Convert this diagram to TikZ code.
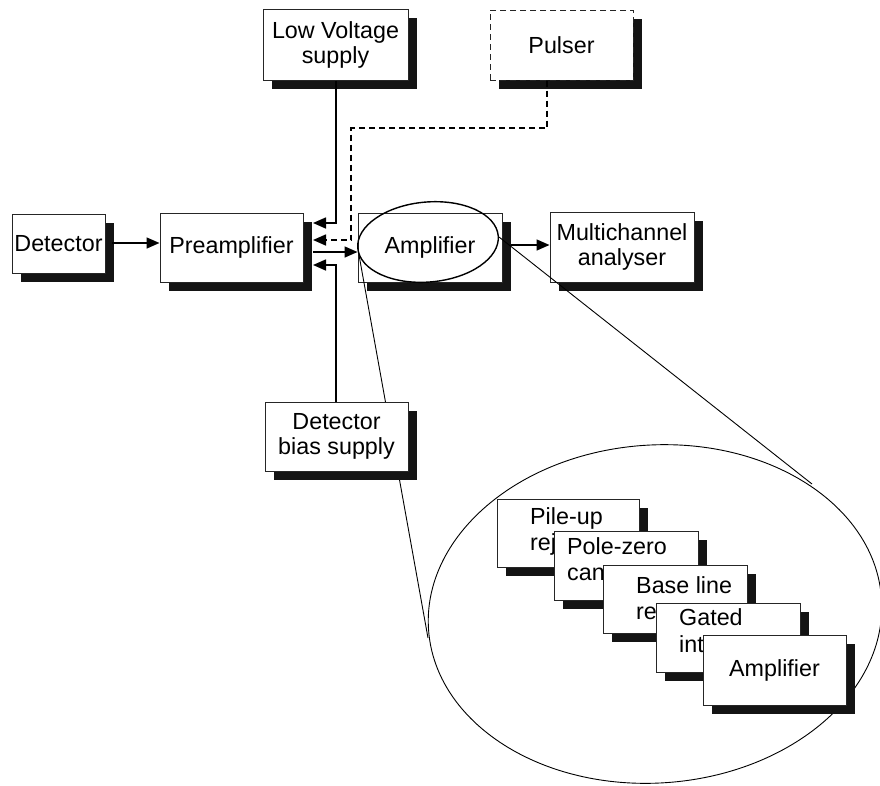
\documentclass[tikz,border=0pt]{standalone}
\usepackage{fontspec}
\setmainfont{Liberation Sans}
\usetikzlibrary{shadows,arrows.meta,shapes.geometric}
\begin{document}
\begin{tikzpicture}[x=1pt,y=-1pt,
  boxfont/.style={font=\fontsize{23.3}{25}\selectfont},
  blk/.style={boxfont, draw=black!85, line width=1pt, fill=white, align=center, inner sep=0pt,
    drop shadow={shadow xshift=9pt,shadow yshift=-9pt,opacity=1,fill=black!92}},
  bigbox/.style={blk, minimum width=143pt, minimum height=69pt},
  conn/.style={line width=1.6pt, -{Triangle[length=13pt,width=11pt]}},
  pconn/.style={conn, dash pattern=on 6pt off 4pt},
  zoomline/.style={line width=0.9pt},
  lbl/.style={boxfont, inner sep=0pt, anchor=base west}]
\useasboundingbox (0,0) rectangle (880,785);

% main row boxes
\node[blk, minimum width=93pt, minimum height=59pt] (det) at (58.5,243.5) {Detector};
\node[bigbox] (pre) at (231.5,247.5) {Preamplifier};
\node[bigbox, minimum width=145pt, minimum height=71pt] (lv) at (335.5,44.5) {Low Voltage\\supply};
\node[bigbox, minimum height=70pt, dash pattern=on 6pt off 4pt] (pulser) at (561.5,45) {Pulser};
\node[bigbox, minimum width=144pt] (amp) at (430,247.5) {Amplifier};
\node[bigbox, minimum width=144pt, minimum height=70pt] (mca) at (622,247) {Multichannel\\analyser};

% ellipse marking the amplifier
\node[draw, ellipse, line width=1.4pt, minimum width=141pt, minimum height=80pt, inner sep=0pt, rotate=5] (ampell) at (428,242) {};

% zoom lines
\coordinate (zl1) at (359,255);
\coordinate (zl2) at (428,638);
\coordinate (zr1) at (499,237);
\coordinate (zr2) at (812,484);
\draw[zoomline] (zl1) -- (zl2);
\draw[zoomline] (zr1) -- (zr2);

% bias supply box
\node[bigbox] (bias) at (336.5,436.5) {Detector\\bias supply};

% connectors
\coordinate (dp) at (112,243);
\coordinate (lvc) at (336,223);
\coordinate (tapLV) at (313,223);
\coordinate (pc1) at (547,128);
\coordinate (pc2) at (351,128);
\coordinate (pc3) at (351,240);
\coordinate (tapP) at (313,240);
\coordinate (tapA) at (313,252);
\coordinate (bc) at (336,265);
\coordinate (tapB) at (313,265);
\coordinate (am) at (511,245);

\draw[conn] (dp) -- (dp -| pre.west);
\draw[conn] (lv.south -| lvc) -- (lvc) -- (tapLV);
\draw[pconn] (pulser.south -| pc1) -- (pc1) -- (pc2) -- (pc3) -- (tapP);
\draw[conn] (tapA) -- (tapA -| amp.west);
\draw[conn] (bias.north -| bc) -- (bc) -- (tapB);
\draw[conn] (am) -- (am -| mca.west);

% big ellipse (magnified view)
\node[draw, ellipse, line width=0.9pt, minimum width=454pt, minimum height=338pt, inner sep=0pt, rotate=4] (zoomell) at (655,614) {};

% stacked boxes
\node[blk, minimum width=142pt, minimum height=68pt] (pu) at (568,533) {};
\node[lbl] (pu1) at (530,524) {Pile-up};
\node[lbl] (pu2) at (530,550) {rej};

\node[blk, minimum width=144pt, minimum height=69pt] (pz) at (626,565.5) {};
\node[lbl] (pz1) at (567,554) {Pole-zero};
\node[lbl] (pz2) at (567,580) {can};

\node[blk, minimum width=144pt, minimum height=68pt] (bl) at (675,599) {};
\node[lbl] (bl1) at (636,593) {Base line};
\node[lbl] (bl2) at (636,619) {re};

\node[blk, minimum width=144pt, minimum height=69pt] (gi) at (728,637.5) {};
\node[lbl] (gi1) at (679,625) {Gated};
\node[lbl] (gi2) at (679,652) {int};

\node[blk, minimum width=143pt, minimum height=70pt] (am2) at (774.5,670) {Amplifier};
\end{tikzpicture}
\end{document}
